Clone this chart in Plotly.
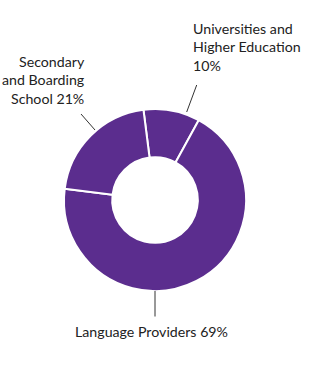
import plotly.graph_objects as go

W, H = 315, 380

# Data
categories = ["Universities and Higher Education", "Language Providers", "Secondary and Boarding School"]
values = [10, 69, 21]
label_texts = ["Universities and<br>Higher Education<br>10%",
               "Language Providers 69%",
               "Secondary<br>and Boarding<br>School 21%"]

PURPLE = "#5b2d8e"
TEXT = "#222222"

def px(x):
    return x / W

def py(y):
    return 1 - y / H

cx, cy, r = 155, 200, 91

fig = go.Figure(go.Pie(
    labels=categories,
    values=values,
    sort=False,
    direction="clockwise",
    rotation=-7.3,
    hole=0.47,
    marker=dict(colors=[PURPLE] * 3, line=dict(color="white", width=2)),
    textinfo="none",
    hoverinfo="label+percent",
    showlegend=False,
    domain=dict(x=[px(cx - r), px(cx + r)], y=[py(cy + r), py(cy - r)]),
))

font = dict(family="Lato, 'Open Sans', sans-serif", size=14.2, color=TEXT)

annotations = [
    dict(text=label_texts[0], x=px(191), y=py(18), xanchor="left", yanchor="top", align="left"),
    dict(text=label_texts[1], x=px(151), y=py(321), xanchor="center", yanchor="top", align="center"),
    dict(text=label_texts[2], x=px(87), y=py(51), xanchor="right", yanchor="top", align="right"),
]
for a in annotations:
    a.update(xref="paper", yref="paper", showarrow=False, font=font)

leaders = [
    ((196.7, 85), (186.7, 112)),
    ((155, 291), (155, 316.5)),
    ((81, 114), (95, 130)),
]
shapes = [
    dict(type="line", xref="paper", yref="paper",
         x0=px(a[0]), y0=py(a[1]), x1=px(b[0]), y1=py(b[1]),
         line=dict(color="#333333", width=1))
    for a, b in leaders
]

fig.update_layout(
    width=W, height=H,
    margin=dict(l=0, r=0, t=0, b=0),
    paper_bgcolor="white", plot_bgcolor="white",
    annotations=annotations,
    shapes=shapes,
)

fig.write_html("out.html", config={"displayModeBar": False},
               post_script="document.body.style.margin='0';")
